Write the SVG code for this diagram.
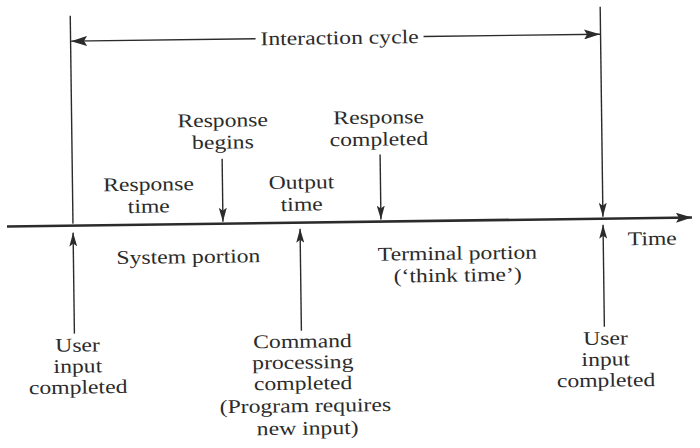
<svg xmlns="http://www.w3.org/2000/svg" width="700" height="448" viewBox="0 0 700 448">
<defs>
<style>
.t{font-family:"Liberation Serif","Times New Roman",serif;font-size:19.4px;fill:#2b2b2b;text-anchor:middle}
.ln{stroke:#2b2b2b;stroke-width:1.4;fill:none}
.ax{stroke:#2b2b2b;stroke-width:2.6;fill:none}
</style>
<marker id="ah" viewBox="0 0 14 8" refX="14" refY="4" markerWidth="14" markerHeight="8" orient="auto" markerUnits="userSpaceOnUse">
<path d="M0,0 L14,4 L0,8 L3,4 z" fill="#2b2b2b"/>
</marker>
<marker id="ahb" viewBox="0 0 16 10" refX="16" refY="5" markerWidth="16" markerHeight="10" orient="auto" markerUnits="userSpaceOnUse">
<path d="M0,0 L16,5 L0,10 L3,5 z" fill="#2b2b2b"/>
</marker>
</defs>
<rect width="700" height="448" fill="#ffffff"/>
<g transform="rotate(-0.75 350 224)">
<g id="connectors">
<line class="ax" x1="7" y1="222" x2="692" y2="222" marker-end="url(#ahb)"/>
<line class="ln" x1="73" y1="12" x2="73" y2="220"/>
<line class="ln" x1="603" y1="10" x2="603" y2="220" marker-end="url(#ah)"/>
<line class="ln" x1="258" y1="37.5" x2="73.5" y2="37.5" marker-end="url(#ahb)"/>
<line class="ln" x1="426" y1="37.5" x2="602.5" y2="37.5" marker-end="url(#ahb)"/>
<line class="ln" x1="223" y1="157" x2="223" y2="220" marker-end="url(#ah)"/>
<line class="ln" x1="381" y1="155" x2="381" y2="220" marker-end="url(#ah)"/>
<line class="ln" x1="73" y1="330" x2="73" y2="229" marker-end="url(#ah)"/>
<line class="ln" x1="300" y1="330" x2="300" y2="228" marker-end="url(#ah)"/>
<line class="ln" x1="603" y1="330" x2="603" y2="228" marker-end="url(#ah)"/>
</g>
<g id="interaction-cycle"><text class="t" transform="translate(342,44) scale(1.22,1)">Interaction cycle</text></g>
<g id="response-time"><text class="t" transform="translate(149,188) scale(1.22,1)">Response</text><text class="t" transform="translate(149,210) scale(1.22,1)">time</text></g>
<g id="response-begins"><text class="t" transform="translate(224,125) scale(1.22,1)">Response</text><text class="t" transform="translate(224,147) scale(1.22,1)">begins</text></g>
<g id="output-time"><text class="t" transform="translate(302,188) scale(1.22,1)">Output</text><text class="t" transform="translate(302,210) scale(1.22,1)">time</text></g>
<g id="response-completed"><text class="t" transform="translate(380,124) scale(1.22,1)">Response</text><text class="t" transform="translate(380,146) scale(1.22,1)">completed</text></g>
<g id="time-label"><text class="t" transform="translate(652,249) scale(1.22,1)">Time</text></g>
<g id="system-portion"><text class="t" transform="translate(188,261) scale(1.22,1)">System portion</text></g>
<g id="terminal-portion"><text class="t" transform="translate(457,261) scale(1.22,1)">Terminal portion</text><text class="t" transform="translate(457,283) scale(1.22,1)">(‘think time’)</text></g>
<g id="user-input-1"><text class="t" transform="translate(76,348) scale(1.22,1)">User</text><text class="t" transform="translate(76,369) scale(1.22,1)">input</text><text class="t" transform="translate(76,390) scale(1.22,1)">completed</text></g>
<g id="command-processing"><text class="t" transform="translate(301,347) scale(1.22,1)">Command</text><text class="t" transform="translate(301,368) scale(1.22,1)">processing</text><text class="t" transform="translate(301,389) scale(1.22,1)">completed</text><text class="t" transform="translate(303,411.5) scale(1.22,1)">(Program requires</text><text class="t" transform="translate(305,434) scale(1.22,1)">new input)</text></g>
<g id="user-input-2"><text class="t" transform="translate(604,348) scale(1.22,1)">User</text><text class="t" transform="translate(604,369) scale(1.22,1)">input</text><text class="t" transform="translate(604,390) scale(1.22,1)">completed</text></g>
</g>
</svg>
